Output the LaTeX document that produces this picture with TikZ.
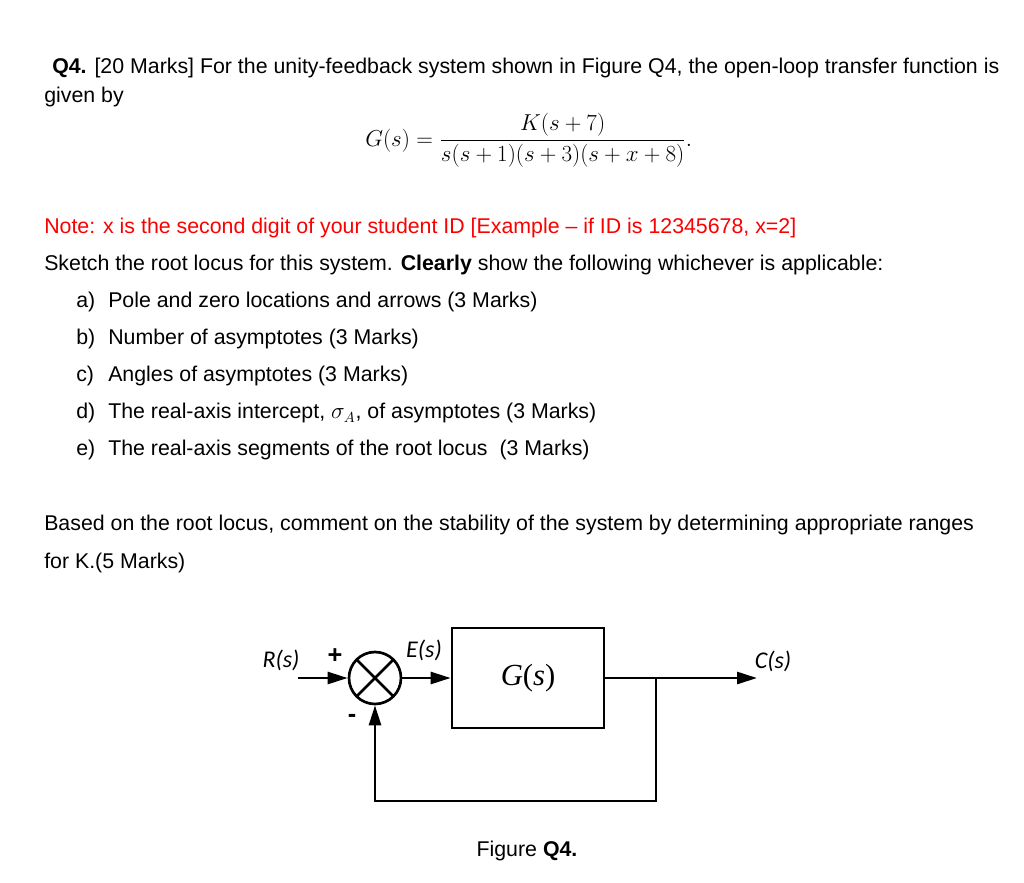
\documentclass[tikz,border=0pt]{standalone}
\usepackage{fontspec}
\setmainfont{Liberation Sans}
\newfontfamily\diagfont{Carlito}
\newfontfamily\blockfont{Liberation Serif}
\usetikzlibrary{arrows.meta, positioning}
\definecolor{notered}{RGB}{250,0,0}

\begin{document}
\begin{tikzpicture}[x=0.75pt, y=-0.75pt, >={Triangle[length=15pt, width=9pt]},
    txt/.style={anchor=base west, inner sep=0pt, font=\fontsize{16}{19}\selectfont},
    lbl/.style={inner sep=0pt, font=\diagfont\itshape\fontsize{18}{21}\selectfont},
    sign/.style={inner sep=0pt, font=\bfseries\fontsize{19}{22}\selectfont},
    wire/.style={line width=2pt},
    summer/.style={circle, draw, line width=2pt, minimum size=39pt, inner sep=0pt,
        path picture={\draw[line width=2pt] (path picture bounding box.north west) -- (path picture bounding box.south east)
            (path picture bounding box.north east) -- (path picture bounding box.south west);}},
    block/.style={draw, line width=2pt, minimum width=114pt, minimum height=75pt, inner sep=0pt,
        font=\blockfont\fontsize{23}{26}\selectfont}]
    \useasboundingbox (0,0) rectangle (1024,882);

    % Question text
    \node[txt] (title) at (52,73) {\textbf{Q4.} [20 Marks] For the unity-feedback system shown in Figure Q4, the open-loop transfer function is};
    \node[txt] (given) at (44,102) {given by};
    \node[anchor=base west, inner sep=0pt, font=\fontsize{16.5}{20}\selectfont] (tf) at (365,146)
        {$\displaystyle G(s) = \frac{K(s+7)}{s(s+1)(s+3)(s+x+8)}.$};
    \node[txt, text=notered] (note) at (44,233) {Note: x is the second digit of your student ID [Example -- if ID is 12345678, x=2]};
    \node[txt] (sketch) at (44,270) {Sketch the root locus for this system. \textbf{Clearly} show the following whichever is applicable:};

    % Items a) to e)
    \foreach \lab/\desc [count=\k] in {a/{Pole and zero locations and arrows (3 Marks)},
        b/{Number of asymptotes (3 Marks)},
        c/{Angles of asymptotes (3 Marks)},
        d/{The real-axis intercept, $\sigma_A$, of asymptotes (3 Marks)},
        e/{The real-axis segments of the root locus\ \ (3 Marks)}}
    {
        \node[txt] (tag-\lab) at (76,{307.7+37*(\k-1)}) {\lab)};
        \node[txt] (item-\lab) at (108,{307.7+37*(\k-1)}) {\desc};
    }

    \node[txt] (based) at (44,530) {Based on the root locus, comment on the stability of the system by determining appropriate ranges};
    \node[txt] (ranges) at (44,568) {for K.(5 Marks)};

    % Define blocks
    \coordinate (in) at (298,678);
    \node[summer] (sum) at (375,678) {};
    \node[block] (plant) at (528,678) {\textit{G}(\textit{s})};
    \coordinate (branch) at (656,678);
    \coordinate (out) at (757,678);
    \coordinate (fbr) at (656,801);
    \coordinate (fbl) at (375,801);

    % Draw signals
    \draw[wire, ->] (in) -- (sum);
    \draw[wire, ->] (sum) -- (plant);
    \draw[wire, ->] (plant) -- (out);
    \draw[wire, ->] (branch) -- (fbr) -- (fbl) -- (sum);

    % Labels
    \node[lbl] (rlabel) at (281,660) {R(s)};
    \node[lbl] (elabel) at (424,650) {E(s)};
    \node[lbl] (clabel) at (773,661) {C(s)};
    \node[sign] (plus) at (335,656) {+};
    \node[sign] (minus) at (352,718) {-};

    \node[txt, anchor=base] (caption) at (527,856) {Figure \textbf{Q4.}};
\end{tikzpicture}
\end{document}
